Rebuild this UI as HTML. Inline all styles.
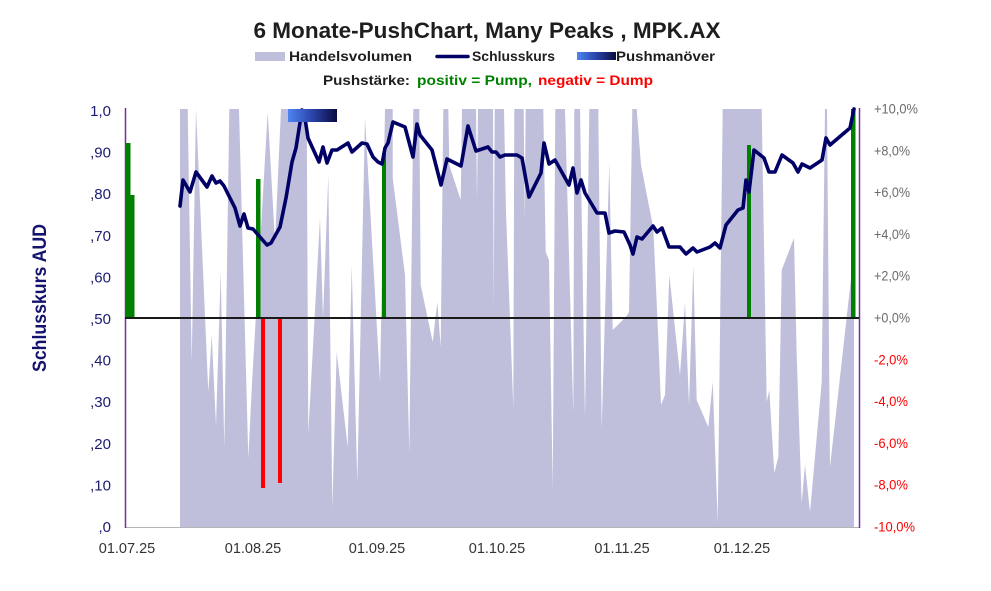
<!DOCTYPE html>
<html><head><meta charset="utf-8"><style>
html,body{margin:0;padding:0;background:#fff;}
svg{display:block;font-family:"Liberation Sans",sans-serif;}
</style></head><body>
<svg width="991" height="591" viewBox="0 0 991 591" xmlns="http://www.w3.org/2000/svg">
<defs>
<linearGradient id="pg" x1="0" y1="0" x2="1" y2="0">
<stop offset="0" stop-color="#4f84f2"/><stop offset="0.5" stop-color="#2a44a8"/><stop offset="1" stop-color="#0a0a40"/>
</linearGradient>
</defs>
<rect width="991" height="591" fill="#fff"/>
<!-- Title -->
<text x="487" y="38" text-anchor="middle" font-size="22" font-weight="bold" fill="#1e1e1e" textLength="467" lengthAdjust="spacingAndGlyphs">6 Monate-PushChart, Many Peaks , MPK.AX</text>
<!-- Legend -->
<rect x="255" y="52" width="30" height="9" fill="#bfbfdb"/>
<text x="289" y="61" font-size="14" font-weight="bold" fill="#1e1e1e" textLength="123" lengthAdjust="spacingAndGlyphs">Handelsvolumen</text>
<line x1="437" y1="56.5" x2="468" y2="56.5" stroke="#000066" stroke-width="3.5" stroke-linecap="round"/>
<text x="472" y="61" font-size="14" font-weight="bold" fill="#1e1e1e" textLength="83" lengthAdjust="spacingAndGlyphs">Schlusskurs</text>
<rect x="577" y="52" width="39" height="8" fill="url(#pg)"/>
<text x="616" y="61" font-size="14" font-weight="bold" fill="#1e1e1e" textLength="99" lengthAdjust="spacingAndGlyphs">Pushmanöver</text>
<text x="323" y="85" font-size="14" font-weight="bold" fill="#1e1e1e" textLength="87" lengthAdjust="spacingAndGlyphs">Pushstärke:</text>
<text x="417" y="85" font-size="14" font-weight="bold" fill="#008000" textLength="115" lengthAdjust="spacingAndGlyphs">positiv = Pump,</text>
<text x="538" y="85" font-size="14" font-weight="bold" fill="#ff0000" textLength="115" lengthAdjust="spacingAndGlyphs">negativ = Dump</text>

<!-- Volume area -->
<polygon fill="#bfbfdb" points="180,527 180,109 187.7,109 191.7,362 196,109 208.3,392 211.7,335 216,425 220.7,272 224.3,447 229.3,109 239,109 248.3,458 252.3,378 267.7,112 275,242 281,109 306.7,109 308.3,433 320,218 323,318 328.3,175 332.3,507 336.7,352 347.7,447 351.7,265 357.3,482 365,118 380,382 385,109 392.7,109 392.7,178 405,275 409.3,452 413.3,109 419.3,109 420.7,285 432.7,342 437.3,302 440.7,347 443.3,109 448.3,109 449.3,165 460.7,200 462,109 476,109 477,200 478,109 493,109 493.7,308 494.7,109 504,109 506,212 513.3,407 514.3,109 523.7,109 524.7,220 525.7,109 543.3,109 545.7,252 549,260 552.7,488 555.3,109 565,109 573.3,413 574.3,109 580,109 585,418 589.3,109 593.3,109 598.3,109 601.7,428 609.3,163 612.7,330 626.7,316 629,312 632.3,109 636.7,109 641,165 653.3,228 658.3,338 661,405 665,395 669.3,275 680,375 685,303 689,405 693.3,265 696.7,400 708.3,427 712.7,382 717.7,522 722.7,109 761.7,109 766.7,402 769.3,390 774.3,473 778.3,457 781.7,270 794,238 796.7,355 801.7,503 805,465 810,512 821.7,382 825,109 827,109 830,467 851.7,272 854,109 854,527"/>

<!-- Axes -->
<line x1="125" y1="527.5" x2="859" y2="527.5" stroke="#b4b4b4" stroke-width="1"/>
<line x1="125.5" y1="108" x2="125.5" y2="528" stroke="#7030a0" stroke-width="1.5"/>
<line x1="859.5" y1="108" x2="859.5" y2="528" stroke="#7030a0" stroke-width="1.5"/>

<!-- Push bars -->
<g fill="#008000">
<rect x="126" y="143" width="4.5" height="175"/>
<rect x="130" y="195" width="4.5" height="123"/>
<rect x="256" y="179" width="4.5" height="139"/>
<rect x="382" y="153" width="4" height="165"/>
<rect x="747" y="145" width="4" height="173"/>
<rect x="851" y="109" width="4.5" height="209"/>
</g>
<g fill="#ff0000">
<rect x="261" y="318" width="4" height="170"/>
<rect x="278" y="318" width="4" height="165"/>
</g>
<line x1="125" y1="318" x2="859" y2="318" stroke="#1a1a1a" stroke-width="2"/>

<!-- Price line -->
<polyline fill="none" stroke="#000066" stroke-width="3.6" stroke-linejoin="round" stroke-linecap="round" points="180,206 183,180 190,192 196,172 207,187 212,176 216,183 220,181 224,186 235,208 240,226 244,214 248,228 253,229 267,245 271,243 280,227 286,198 292,162 296,148 302,110 304,112 308,138 319,162 323,147 327,163 332,150 337,150 348,143 352,152 362,143 367,144 373,157 378,162 382,164 385,148 388,143 393,122 405,127 413,157 417,124 420,135 432,150 441,185 447,159 461,166 468,126 476,151 488,147 492,152 496,152 500,157 505,155 517,155 522,158 529,197 541,173 544,143 549,164 555,160 569,185 573,168 577,193 581,180 585,193 597,213 605,213 609,233 615,231 624,232 630,245 633,254 637,237 642,239 653,226 657,232 662,228 669,247 680,247 686,254 693,248 697,252 710,247 715,243 720,248 726,225 738,210 743,208 746,180 749,192 754,150 764,158 769,172 775,172 782,155 793,163 798,172 802,164 810,168 822,160 826,138 830,145 850,128 854,109"/>
<rect x="288" y="109" width="49" height="13" fill="url(#pg)"/>

<!-- Left ticks -->
<g font-size="15" fill="#1c1c70" text-anchor="end">
<text x="111" y="116">1,0</text>
<text x="111" y="157.6">,90</text>
<text x="111" y="199.2">,80</text>
<text x="111" y="240.8">,70</text>
<text x="111" y="282.4">,60</text>
<text x="111" y="324">,50</text>
<text x="111" y="365.6">,40</text>
<text x="111" y="407.2">,30</text>
<text x="111" y="448.8">,20</text>
<text x="111" y="490.4">,10</text>
<text x="111" y="532">,0</text>
</g>
<text transform="translate(46,298) rotate(-90)" text-anchor="middle" font-size="19" font-weight="bold" fill="#14146e" textLength="148" lengthAdjust="spacingAndGlyphs">Schlusskurs AUD</text>

<!-- Right ticks -->
<g font-size="14">
<text x="874" y="113.5" fill="#6b6b6b" textLength="44" lengthAdjust="spacingAndGlyphs">+10,0%</text>
<text x="874" y="155.3" fill="#6b6b6b" textLength="36" lengthAdjust="spacingAndGlyphs">+8,0%</text>
<text x="874" y="197.1" fill="#6b6b6b" textLength="36" lengthAdjust="spacingAndGlyphs">+6,0%</text>
<text x="874" y="238.9" fill="#6b6b6b" textLength="36" lengthAdjust="spacingAndGlyphs">+4,0%</text>
<text x="874" y="280.7" fill="#6b6b6b" textLength="36" lengthAdjust="spacingAndGlyphs">+2,0%</text>
<text x="874" y="322.5" fill="#6b6b6b" textLength="36" lengthAdjust="spacingAndGlyphs">+0,0%</text>
<text x="874" y="364.3" fill="#ff0000" textLength="34" lengthAdjust="spacingAndGlyphs">-2,0%</text>
<text x="874" y="406.1" fill="#ff0000" textLength="34" lengthAdjust="spacingAndGlyphs">-4,0%</text>
<text x="874" y="447.9" fill="#ff0000" textLength="34" lengthAdjust="spacingAndGlyphs">-6,0%</text>
<text x="874" y="489.7" fill="#ff0000" textLength="34" lengthAdjust="spacingAndGlyphs">-8,0%</text>
<text x="874" y="531.5" fill="#ff0000" textLength="41" lengthAdjust="spacingAndGlyphs">-10,0%</text>
</g>

<!-- X labels -->
<g font-size="14.5" fill="#333" text-anchor="middle">
<text x="127" y="553">01.07.25</text>
<text x="253" y="553">01.08.25</text>
<text x="377" y="553">01.09.25</text>
<text x="497" y="553">01.10.25</text>
<text x="622" y="553">01.11.25</text>
<text x="742" y="553">01.12.25</text>
</g>
</svg>
</body></html>
